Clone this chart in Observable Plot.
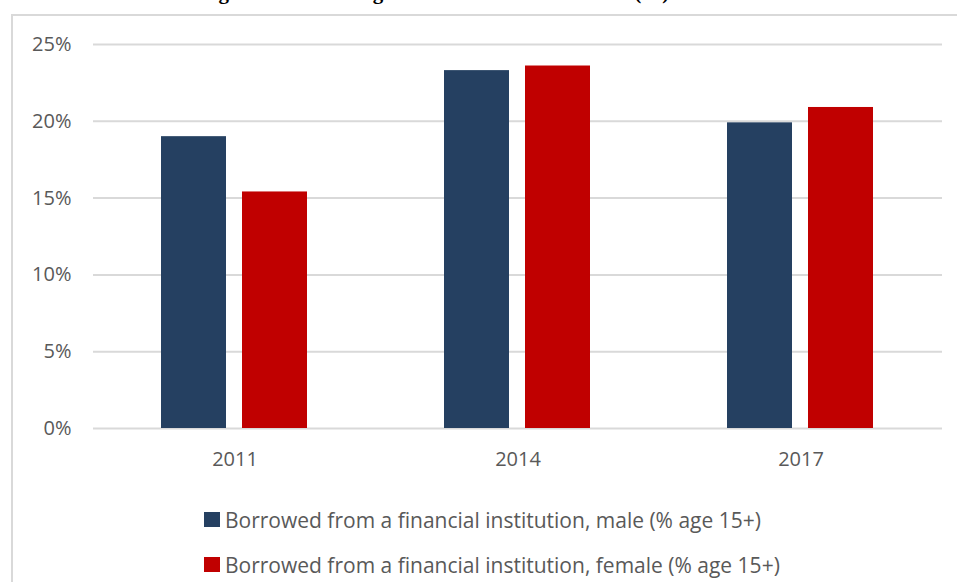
<!DOCTYPE html>
<html>
<head>
<meta charset="utf-8">
<script src="https://cdn.jsdelivr.net/npm/d3@7"></script>
<script src="https://cdn.jsdelivr.net/npm/@observablehq/plot@0.6"></script>
<style>
  html, body { margin: 0; padding: 0; background: #fff; }
  body { width: 957px; height: 582px; position: relative; overflow: hidden; }
  #title { position: absolute; left: 0; top: -19px; width: 980px; text-align: center;
    font-family: "Liberation Serif", serif; font-weight: bold; font-size: 21px; line-height: 22px; color: #000; white-space: nowrap; }
  #frame { position: absolute; left: 11px; top: 14px; width: 1000px; height: 620px;
    border: 2px solid #d9d9d9; box-sizing: border-box; }
  #chart { position: absolute; left: 0; top: 0; }
  #legend { position: absolute; left: 204px; top: 497px; font-family: "Open Sans", sans-serif;
    font-size: 21px; color: #595959; }
  .item { display: flex; align-items: center; height: 45px; margin: 0; white-space: nowrap; }
  .sw { width: 16px; height: 15px; margin-right: 5px; }
</style>
</head>
<body>
<div id="title">Figure 4: Borrowing from a financial institution (%) in Australia</div>
<div id="frame"></div>
<div id="chart"></div>
<div id="legend"></div>
<script>
const years = ["2011", "2014", "2017"];
const male = [19.0, 23.3, 19.9];
const female = [15.4, 23.6, 20.9];
const seriesNames = [
  "Borrowed from a financial institution, male (% age 15+)",
  "Borrowed from a financial institution, female (% age 15+)"
];
const seriesColors = ["#254061", "#C00000"];
const yTicks = [0, 5, 10, 15, 20, 25];

const data = [];
years.forEach((yr, i) => {
  data.push({year: yr, series: seriesNames[0], value: male[i]});
  data.push({year: yr, series: seriesNames[1], value: female[i]});
});

const chart = Plot.plot({
  width: 957,
  height: 480,
  marginTop: 44,
  marginBottom: 52,
  marginLeft: 92,
  marginRight: 14,
  style: {fontFamily: "Open Sans, sans-serif", fontSize: "20px", color: "#595959", background: "transparent"},
  fx: {domain: years, padding: 0, label: null, axis: "bottom", tickSize: 0, tickPadding: 23},
  x: {domain: seriesNames, axis: null, paddingInner: 0.196, paddingOuter: 0.838},
  y: {domain: [0, 25], ticks: yTicks, tickFormat: d => d + "%", label: null, tickSize: 0, tickPadding: 22},
  color: {domain: seriesNames, range: seriesColors},
  marks: [
    Plot.ruleY(yTicks, {stroke: "#d9d9d9", strokeWidth: 2}),
    Plot.barY(data, {fx: "year", x: "series", y: "value", fill: "series"})
  ]
});
document.getElementById("chart").appendChild(chart);

const legend = document.getElementById("legend");
seriesNames.forEach((name, i) => {
  const item = document.createElement("div");
  item.className = "item";
  const sw = document.createElement("span");
  sw.className = "sw";
  sw.style.background = seriesColors[i];
  const label = document.createElement("span");
  label.textContent = name;
  item.appendChild(sw);
  item.appendChild(label);
  legend.appendChild(item);
});
</script>
</body>
</html>
